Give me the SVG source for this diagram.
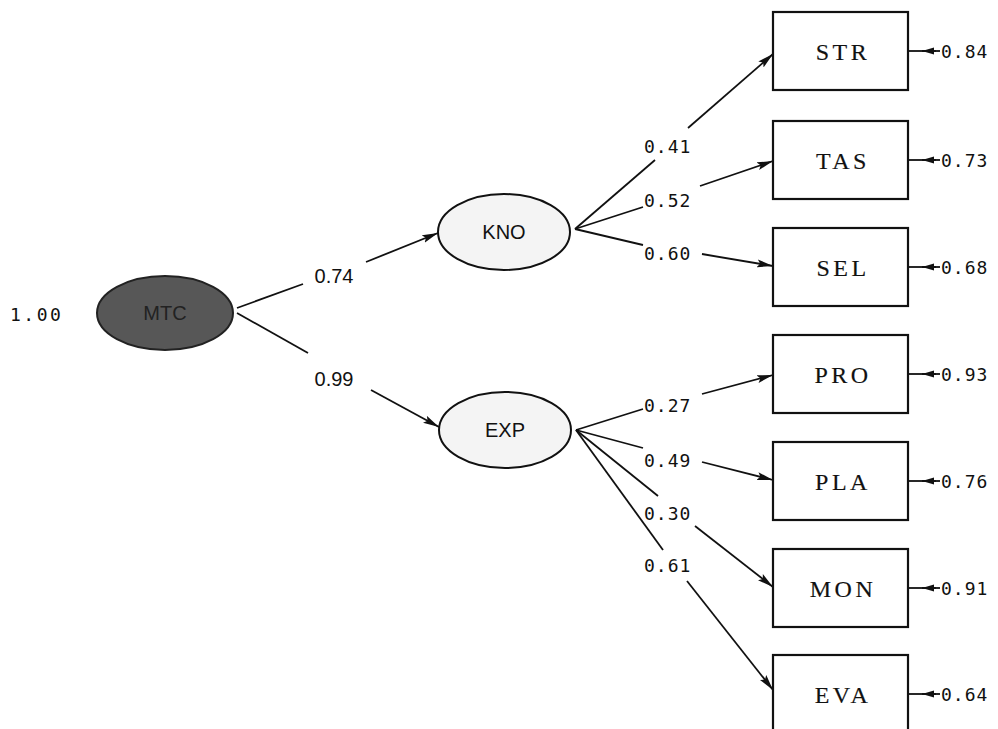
<svg xmlns="http://www.w3.org/2000/svg" width="998" height="729" viewBox="0 0 998 729">
<defs>
<marker id="ah" viewBox="0 0 16 9" refX="16" refY="4.5" markerWidth="16" markerHeight="9" markerUnits="userSpaceOnUse" orient="auto">
<path d="M0,0.5 L16,4.5 L0,8.5 L3,4.5 Z" fill="#111"/>
</marker>
<marker id="eh" viewBox="0 0 12 8" refX="12" refY="4" markerWidth="12" markerHeight="8" markerUnits="userSpaceOnUse" orient="auto">
<path d="M0,0.5 L12,4 L0,7.5 Z" fill="#111"/>
</marker>
<style>
.box{fill:#fff;stroke:#111;stroke-width:2.2}
.lat{fill:#f4f4f4;stroke:#111;stroke-width:2}
.btxt{font-family:"Liberation Serif",serif;font-size:24px;letter-spacing:3.5px;fill:#111;stroke:#111;stroke-width:0.15;text-anchor:middle}
.ltxt{font-family:"Liberation Sans",Arial,sans-serif;font-size:20px;fill:#111;text-anchor:middle}
.num{font-family:"DejaVu Sans Mono",monospace;font-size:18px;letter-spacing:1px;fill:#111}
.snum{font-family:"Liberation Sans",Arial,sans-serif;font-size:20px;fill:#111;text-anchor:middle}
.e{stroke:#111;stroke-width:1.8;fill:none}
</style>
</defs>
<rect width="998" height="729" fill="#fff"/>

<g id="connectors">
<line class="e" x1="237" y1="308" x2="303" y2="284"/>
<line class="e" x1="366" y1="262" x2="438" y2="233" marker-end="url(#ah)"/>
<line class="e" x1="237" y1="313" x2="308" y2="353"/>
<line class="e" x1="371" y1="390" x2="439" y2="427" marker-end="url(#ah)"/>
<line class="e" x1="575" y1="229" x2="655" y2="160"/>
<line class="e" x1="688" y1="128" x2="773" y2="54" marker-end="url(#ah)"/>
<line class="e" x1="575" y1="229" x2="643" y2="207"/>
<line class="e" x1="700" y1="186" x2="773" y2="161" marker-end="url(#ah)"/>
<line class="e" x1="575" y1="229" x2="643" y2="245"/>
<line class="e" x1="702" y1="254" x2="773" y2="266" marker-end="url(#ah)"/>
<line class="e" x1="576" y1="430" x2="643" y2="409"/>
<line class="e" x1="702" y1="394" x2="773" y2="375" marker-end="url(#ah)"/>
<line class="e" x1="576" y1="430" x2="643" y2="448"/>
<line class="e" x1="702" y1="462" x2="773" y2="480" marker-end="url(#ah)"/>
<line class="e" x1="576" y1="430" x2="658" y2="496"/>
<line class="e" x1="695" y1="526" x2="773" y2="587" marker-end="url(#ah)"/>
<line class="e" x1="576" y1="430" x2="663" y2="550"/>
<line class="e" x1="687" y1="581" x2="773" y2="690" marker-end="url(#ah)"/>
<line class="e" x1="940" y1="51" x2="909" y2="51"/>
<line class="e" x1="936" y1="51" x2="922" y2="51" marker-end="url(#eh)"/>
<line class="e" x1="940" y1="160" x2="909" y2="160"/>
<line class="e" x1="936" y1="160" x2="922" y2="160" marker-end="url(#eh)"/>
<line class="e" x1="940" y1="267" x2="909" y2="267"/>
<line class="e" x1="936" y1="267" x2="922" y2="267" marker-end="url(#eh)"/>
<line class="e" x1="940" y1="374" x2="909" y2="374"/>
<line class="e" x1="936" y1="374" x2="922" y2="374" marker-end="url(#eh)"/>
<line class="e" x1="940" y1="481" x2="909" y2="481"/>
<line class="e" x1="936" y1="481" x2="922" y2="481" marker-end="url(#eh)"/>
<line class="e" x1="940" y1="588" x2="909" y2="588"/>
<line class="e" x1="936" y1="588" x2="922" y2="588" marker-end="url(#eh)"/>
<line class="e" x1="940" y1="694" x2="909" y2="694"/>
<line class="e" x1="936" y1="694" x2="922" y2="694" marker-end="url(#eh)"/>
<text class="snum" x="334" y="283">0.74</text>
<text class="snum" x="334" y="386">0.99</text>
<text class="num" x="644" y="153">0.41</text>
<text class="num" x="644" y="207">0.52</text>
<text class="num" x="644" y="260">0.60</text>
<text class="num" x="644" y="412">0.27</text>
<text class="num" x="644" y="467">0.49</text>
<text class="num" x="644" y="520">0.30</text>
<text class="num" x="644" y="572">0.61</text>
<text class="num" x="941" y="58">0.84</text>
<text class="num" x="941" y="167">0.73</text>
<text class="num" x="941" y="274">0.68</text>
<text class="num" x="941" y="381">0.93</text>
<text class="num" x="941" y="488">0.76</text>
<text class="num" x="941" y="595">0.91</text>
<text class="num" x="941" y="701">0.64</text>
<text class="num" x="10" y="321" style="letter-spacing:2.5px">1.00</text>
</g>

<g id="MTC">
<ellipse cx="165" cy="313" rx="68" ry="37" fill="#575757" stroke="#222" stroke-width="2"/>
<text class="ltxt" x="165" y="320" style="fill:#222">MTC</text>
</g>
<g id="KNO">
<ellipse class="lat" cx="504" cy="232" rx="66" ry="38"/>
<text class="ltxt" x="504" y="239">KNO</text>
</g>
<g id="EXP">
<ellipse class="lat" cx="505" cy="430" rx="66" ry="38"/>
<text class="ltxt" x="505" y="437">EXP</text>
</g>
<g id="STR"><rect class="box" x="773" y="12" width="135" height="78"/><text class="btxt" x="843" y="60">STR</text></g>
<g id="TAS"><rect class="box" x="773" y="121" width="135" height="78"/><text class="btxt" x="843" y="169">TAS</text></g>
<g id="SEL"><rect class="box" x="773" y="228" width="135" height="78"/><text class="btxt" x="843" y="276">SEL</text></g>
<g id="PRO"><rect class="box" x="773" y="335" width="135" height="78"/><text class="btxt" x="843" y="383">PRO</text></g>
<g id="PLA"><rect class="box" x="773" y="442" width="135" height="78"/><text class="btxt" x="843" y="490">PLA</text></g>
<g id="MON"><rect class="box" x="773" y="549" width="135" height="78"/><text class="btxt" x="843" y="597">MON</text></g>
<g id="EVA"><rect class="box" x="773" y="655" width="135" height="78"/><text class="btxt" x="843" y="703">EVA</text></g>
</svg>
